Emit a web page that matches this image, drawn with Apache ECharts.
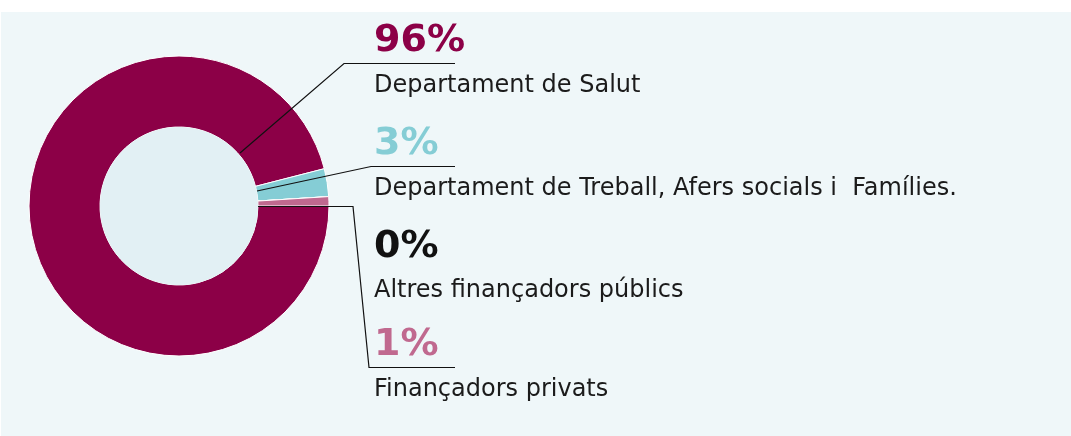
<!DOCTYPE html>
<html>
<head>
<meta charset="utf-8">
<script src="https://cdn.jsdelivr.net/npm/echarts@6/dist/echarts.min.js"></script>
<style>
  html, body { margin: 0; padding: 0; background: #fff; }
  #chart { width: 1071px; height: 436px; }
</style>
</head>
<body>
<div id="chart"></div>
<script>
// funding sources (percent of total)
const categories = [
  'Departament de Salut',
  'Departament de Treball, Afers socials i  Famílies.',
  'Altres finançadors públics',
  'Finançadors privats'
];
const shares = [96, 3, 0, 1];
const colors = ['#8c0047', '#85cdd5', '#111111', '#c0698f'];

// layout of the donut and the callouts
const CX = 179, CY = 206;
const R_IN = 79, R_OUT = 150;
const LABEL_X = 374;
const labelY = [63.5, 166.5, 269, 367.5];
const leaderLines = [
  [[240, 153], [344, 63.5], [455, 63.5]],
  [[257, 191], [371, 166.5], [455, 166.5]],
  null,
  [[258, 206.5], [353, 206.5], [369, 367.5], [455, 367.5]]
];

const chart = echarts.init(document.getElementById('chart'));

const rich = {
  desc: { fontFamily: 'DejaVu Sans', fontSize: 24, color: '#1b1b1b', lineHeight: 44 }
};
colors.forEach((c, i) => {
  rich['n' + i] = { fontFamily: 'DejaVu Sans', fontWeight: 'bold', fontSize: 38, color: c, lineHeight: 44 };
});

const pieData = categories.map((name, i) => ({ name: name, value: shares[i] }));

chart.setOption({
  backgroundColor: '#ffffff',
  animation: false,
  graphic: [
    { type: 'rect', z: -10, shape: { x: 1, y: 12, width: 1070, height: 424 }, style: { fill: '#eff7f9' } },
    { type: 'circle', z: 10, shape: { cx: CX, cy: CY, r: R_IN }, style: { fill: '#e2f0f4' }, silent: true }
  ],
  series: [
    {
      // the ring itself
      type: 'pie',
      z: 2,
      center: [CX, CY],
      radius: [R_IN, R_OUT],
      startAngle: 0,
      clockwise: true,
      silent: true,
      itemStyle: { borderColor: '#ffffff', borderWidth: 1 },
      label: { show: false },
      labelLine: { show: false },
      data: pieData.map((d, i) => ({ ...d, itemStyle: { color: colors[i] } }))
    },
    {
      // same slices, transparent, only to carry the callouts above the ring
      type: 'pie',
      z: 20,
      center: [CX, CY],
      radius: [R_IN, R_OUT],
      startAngle: 0,
      clockwise: true,
      silent: true,
      avoidLabelOverlap: false,
      itemStyle: { color: 'rgba(0,0,0,0)', borderWidth: 0 },
      label: {
        show: true,
        formatter: (p) => '{n' + p.dataIndex + '|' + p.value + '%}\n{desc|' + p.name + '}',
        rich: rich
      },
      labelLine: { show: true, lineStyle: { color: '#111111', width: 1.2 } },
      labelLayout: (params) => {
        const i = params.dataIndex;
        const out = { x: LABEL_X, y: labelY[i], align: 'left', verticalAlign: 'middle' };
        if (leaderLines[i]) out.labelLinePoints = leaderLines[i];
        return out;
      },
      data: pieData.map((d, i) => ({ ...d, labelLine: { show: leaderLines[i] != null } }))
    }
  ]
});
</script>
</body>
</html>
